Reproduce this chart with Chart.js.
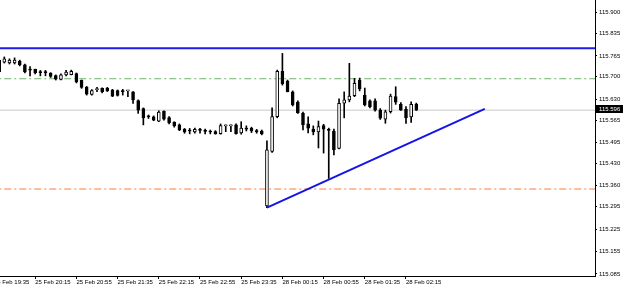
<!DOCTYPE html>
<html>
<head>
<meta charset="utf-8">
<title>USDJPY M5</title>
<script src="https://cdn.jsdelivr.net/npm/chart.js@4/dist/chart.umd.min.js"></script>
<style>
    html, body { margin: 0; padding: 0; background: #fff; }
    #wrap { width: 625px; height: 287px; position: relative; }
</style>
</head>
<body>
<div id="wrap"><canvas id="price_chart"></canvas></div>
<script>
// 5 minute bars. bar 1 = 25 Feb 19:40 ... bar 52 = 25 Feb 23:55, bar 53 = 28 Feb 00:00 ... bar 82 = 28 Feb 02:25
const firstBar = 1;

const opens = [
    115.715, 115.746, 115.743, 115.743, 115.749, 115.737, 115.723, 115.723, 115.715, 115.715,
    115.712, 115.704, 115.692, 115.706, 115.707, 115.710, 115.689, 115.668, 115.645, 115.660,
    115.664, 115.665, 115.659, 115.657, 115.656, 115.656, 115.653, 115.626, 115.601, 115.576,
    115.575, 115.562, 115.592, 115.573, 115.558, 115.550, 115.537, 115.533, 115.528, 115.534,
    115.531, 115.529, 115.529, 115.523, 115.547, 115.547, 115.550, 115.525, 115.539, 115.539,
    115.531, 115.531, 115.297, 115.467, 115.576, 115.717, 115.687, 115.653, 115.621, 115.586,
    115.553, 115.537, 115.528, 115.548, 115.536, 115.531, 115.477, 115.618, 115.628, 115.641,
    115.690, 115.643, 115.625, 115.625, 115.596, 115.568, 115.591, 115.638, 115.614, 115.599,
    115.575, 115.615
];

const highs = [
    115.756, 115.762, 115.756, 115.759, 115.752, 115.740, 115.732, 115.724, 115.720, 115.720,
    115.713, 115.706, 115.709, 115.720, 115.721, 115.712, 115.690, 115.670, 115.660, 115.667,
    115.666, 115.667, 115.661, 115.659, 115.661, 115.657, 115.654, 115.628, 115.603, 115.581,
    115.578, 115.594, 115.594, 115.576, 115.560, 115.553, 115.539, 115.539, 115.540, 115.539,
    115.537, 115.534, 115.532, 115.553, 115.550, 115.550, 115.553, 115.560, 115.547, 115.543,
    115.536, 115.534, 115.500, 115.603, 115.721, 115.773, 115.690, 115.656, 115.625, 115.590,
    115.575, 115.547, 115.562, 115.552, 115.540, 115.537, 115.631, 115.653, 115.742, 115.695,
    115.696, 115.665, 115.628, 115.631, 115.601, 115.596, 115.646, 115.669, 115.620, 115.607,
    115.622, 115.618
];

const lows = [
    115.712, 115.743, 115.740, 115.740, 115.734, 115.712, 115.703, 115.709, 115.703, 115.703,
    115.698, 115.690, 115.690, 115.703, 115.706, 115.681, 115.664, 115.643, 115.643, 115.654,
    115.650, 115.654, 115.638, 115.640, 115.643, 115.638, 115.617, 115.586, 115.550, 115.570,
    115.563, 115.560, 115.565, 115.553, 115.543, 115.532, 115.524, 115.522, 115.524, 115.524,
    115.522, 115.522, 115.521, 115.521, 115.529, 115.529, 115.521, 115.521, 115.531, 115.526,
    115.524, 115.519, 115.292, 115.464, 115.572, 115.674, 115.653, 115.609, 115.586, 115.534,
    115.525, 115.519, 115.478, 115.462, 115.383, 115.456, 115.475, 115.572, 115.622, 115.638,
    115.656, 115.609, 115.603, 115.593, 115.567, 115.555, 115.587, 115.614, 115.595, 115.555,
    115.558, 115.595
];

const closes = [
    115.752, 115.756, 115.752, 115.752, 115.737, 115.715, 115.721, 115.712, 115.713, 115.713,
    115.701, 115.693, 115.706, 115.715, 115.717, 115.684, 115.667, 115.646, 115.657, 115.662,
    115.654, 115.656, 115.640, 115.642, 115.654, 115.657, 115.628, 115.596, 115.572, 115.575,
    115.565, 115.590, 115.568, 115.556, 115.547, 115.534, 115.528, 115.531, 115.536, 115.533,
    115.530, 115.528, 115.522, 115.548, 115.548, 115.548, 115.523, 115.540, 115.537, 115.531,
    115.529, 115.522, 115.472, 115.576, 115.717, 115.679, 115.654, 115.612, 115.587, 115.550,
    115.540, 115.528, 115.545, 115.537, 115.533, 115.472, 115.617, 115.628, 115.640, 115.680,
    115.662, 115.612, 115.607, 115.596, 115.571, 115.591, 115.640, 115.621, 115.596, 115.572,
    115.614, 115.596
];

const tickBars = [0, 8, 16, 24, 32, 40, 48, 56, 64, 72, 80];
const tickLabels = [
    "25 Feb 19:35", "25 Feb 20:15", "25 Feb 20:55", "25 Feb 21:35", "25 Feb 22:15", "25 Feb 22:55",
    "25 Feb 23:35", "28 Feb 00:15", "28 Feb 00:55", "28 Feb 01:35", "28 Feb 02:15"
];
const priceTicks = [
    115.900, 115.835, 115.765, 115.700, 115.630, 115.565, 115.495,
    115.430, 115.360, 115.295, 115.225, 115.155, 115.085
];

// drawn objects
const resistance = 115.789;
const upperLevel = 115.694;
const lowerLevel = 115.350;
const lastPrice = 115.596;
const trendBars = [53, 95.3];
const trendPrices = [115.292, 115.600];

// visible window
const priceMin = 115.0787;
const priceMax = 115.9396;
const barMin = 1.165;
const barMax = 116.7;

Chart.defaults.font.family = '"Liberation Sans", Arial, sans-serif';
Chart.defaults.font.size = 6;
Chart.defaults.color = '#000';

const level = (value) => [{ x: barMin - 5, y: value }, { x: barMax + 5, y: value }];

const bodies = opens.map((o, k) => ({ x: firstBar + k, y: [Math.min(o, closes[k]), Math.max(o, closes[k])] }));
const wicks = lows.map((l, k) => ({ x: firstBar + k, y: [l, highs[k]] }));
const bodyColors = opens.map((o, k) => closes[k] >= o ? '#fff' : '#000');

const lastPriceTag = {
    id: 'lastPriceTag',
    afterDraw(chart) {
        const area = chart.chartArea;
        const y = Math.round(chart.scales.y.getPixelForValue(lastPrice));
        const ctx = chart.ctx;
        ctx.save();
        ctx.fillStyle = '#000';
        ctx.fillRect(area.right + 1, y - 5, 27, 8);
        ctx.fillStyle = '#fff';
        ctx.font = '6px "Liberation Sans", Arial, sans-serif';
        ctx.textBaseline = 'middle';
        ctx.fillText(lastPrice.toFixed(3), area.right + 4, y - 1);
        ctx.restore();
    }
};

const ctx = document.getElementById('price_chart').getContext('2d');
new Chart(ctx, {
    type: 'bar',
    data: {
        datasets: [
            {
                type: 'line', data: level(lastPrice), borderColor: '#c8c8c8', borderWidth: 1,
                pointRadius: 0, order: 9
            },
            {
                type: 'line', data: level(upperLevel), borderColor: '#6fb46f', borderWidth: 1,
                borderDash: [7, 3, 2, 3], pointRadius: 0, order: 8
            },
            {
                type: 'line', data: level(lowerLevel), borderColor: '#ff7a3c', borderWidth: 1,
                borderDash: [7, 3, 2, 3], pointRadius: 0, order: 8
            },
            {
                type: 'line', data: level(resistance), borderColor: '#1e1ee6', borderWidth: 2,
                pointRadius: 0, order: 7
            },
            {
                data: wicks, backgroundColor: '#000', barThickness: 1, grouped: false,
                borderSkipped: false, order: 3
            },
            {
                data: bodies, backgroundColor: bodyColors, borderColor: '#000', borderWidth: 1,
                barThickness: 3, minBarLength: 1, grouped: false, borderSkipped: false, order: 2
            },
            {
                type: 'line',
                data: trendBars.map((b, k) => ({ x: b, y: trendPrices[k] })),
                borderColor: '#1414e6', borderWidth: 2, pointRadius: 0, order: 1
            }
        ]
    },
    options: {
        responsive: true,
        maintainAspectRatio: false,
        animation: false,
        layout: { padding: 0 },
        plugins: { legend: { display: false }, tooltip: { enabled: false } },
        scales: {
            x: {
                type: 'linear',
                min: barMin,
                max: barMax,
                offset: false,
                grid: { offset: false, drawOnChartArea: false, drawTicks: true, tickLength: 3, color: '#000' },
                border: { display: true, color: '#000', width: 1 },
                ticks: {
                    autoSkip: false, maxRotation: 0, align: 'start', padding: 0,
                    callback: (v) => tickLabels[tickBars.indexOf(v)]
                },
                afterBuildTicks: (scale) => { scale.ticks = tickBars.map(v => ({ value: v })); },
                afterFit: (scale) => {
                    scale.height = 11;
                    scale.paddingLeft = 0;
                    scale.paddingRight = 0;
                }
            },
            y: {
                position: 'right',
                min: priceMin,
                max: priceMax,
                grid: { drawOnChartArea: false, drawTicks: true, tickLength: 2, color: '#000' },
                border: { display: true, color: '#000', width: 1 },
                ticks: { autoSkip: false, padding: 2, callback: (v) => v.toFixed(3) },
                afterBuildTicks: (scale) => { scale.ticks = priceTicks.map(v => ({ value: v })); },
                afterFit: (scale) => {
                    scale.width = 30;
                    scale.paddingTop = 0;
                    scale.paddingBottom = 0;
                }
            }
        }
    },
    plugins: [lastPriceTag]
});
</script>
</body>
</html>
